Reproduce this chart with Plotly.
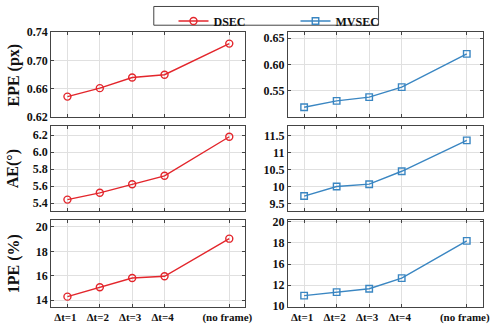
import plotly.graph_objects as go
from plotly.subplots import make_subplots

categories = ["Δt=1", "Δt=2", "Δt=3", "Δt=4", "(no frame)"]
x_pos = [1, 2, 3, 4, 6]

dsec_epe = [0.649, 0.661, 0.676, 0.680, 0.724]
mvsec_epe = [0.519, 0.531, 0.538, 0.557, 0.620]
dsec_ae = [5.44, 5.52, 5.62, 5.72, 6.18]
mvsec_ae = [9.72, 10.0, 10.07, 10.45, 11.36]
dsec_1pe = [14.28, 15.05, 15.81, 15.95, 19.04]
mvsec_1pe = [11.0, 11.34, 11.66, 12.66, 16.2]

y_titles = ["EPE (px)", "AE(°)", "1PE (%)"]

# tick definitions (values, labels) as in the reference
ticks = {
    (1, 1): ([0.62, 0.66, 0.70, 0.74], ["0.62", "0.66", "0.70", "0.74"], [0.6195, 0.7405]),
    (1, 2): ([0.55, 0.60, 0.65], ["0.55", "0.60", "0.65"], [0.4996, 0.6615]),
    (2, 1): ([5.4, 5.6, 5.8, 6.0, 6.2], ["5.4", "5.6", "5.8", "6.0", "6.2"], [5.31, 6.305]),
    (2, 2): ([9.5, 10, 10.5, 11, 11.5], ["9.5", "10", "10.5", "11", "11.5"], [9.29, 11.78]),
    (3, 1): ([14, 16, 18, 20], ["14", "16", "18", "20"], [13.45, 20.55]),
    (3, 2): ([10, 12, 14, 16, 18], ["10", "12", "16", "18", "20"], [9.95, 18.15]),
}

RED = "#e3262c"
BLUE = "#3a86c2"
FONT = "Liberation Serif, Times New Roman, serif"

fig = make_subplots(rows=3, cols=2)

series = [
    (1, 1, dsec_epe), (1, 2, mvsec_epe),
    (2, 1, dsec_ae), (2, 2, mvsec_ae),
    (3, 1, dsec_1pe), (3, 2, mvsec_1pe),
]
for r, c, vals in series:
    is_d = c == 1
    fig.add_trace(
        go.Scatter(
            x=x_pos, y=vals, mode="lines+markers",
            name="DSEC" if is_d else "MVSEC",
            showlegend=(r == 1),
            line=dict(color=RED if is_d else BLUE, width=1.4),
            marker=dict(
                symbol="circle-open" if is_d else "square-open",
                size=7 if is_d else 6.5,
                color=RED if is_d else BLUE,
                line=dict(width=1.4),
            ),
        ),
        row=r, col=c,
    )

W, H = 493, 332
xdom = {1: [52 / W, 249 / W], 2: [292 / W, 490 / W]}
ydom = {1: [1 - 116 / H, 1 - 27 / H], 2: [1 - 213 / H, 1 - 125 / H], 3: [1 - 313 / H, 1 - 223 / H]}

for r in range(1, 4):
    for c in range(1, 3):
        tv, tt, rng = ticks[(r, c)]
        fig.update_xaxes(
            domain=xdom[c], range=[0.5, 6.5], tickvals=x_pos, ticktext=categories,
            showticklabels=(r == 3), ticks="inside", ticklen=3, tickcolor="#444",
            mirror="allticks", showline=True, linecolor="#444", linewidth=1,
            showgrid=True, gridcolor="#e0e0e0", gridwidth=1, zeroline=False,
            tickfont=dict(family=FONT, size=11, color="#111", weight="bold"),
            ticklabelshift=-2,
            row=r, col=c,
        )
        fig.update_yaxes(
            domain=ydom[r], range=rng, tickvals=tv, ticktext=tt,
            ticks="inside", ticklen=3, tickcolor="#444",
            mirror="allticks", showline=True, linecolor="#444", linewidth=1,
            showgrid=True, gridcolor="#e0e0e0", gridwidth=1, zeroline=False,
            tickfont=dict(family=FONT, size=12, color="#111", weight="bold"),
            row=r, col=c,
        )

for r, t in enumerate(y_titles, start=1):
    d = ydom[r]
    fig.add_annotation(
        text=t, xref="paper", yref="paper", x=14 / W, y=(d[0] + d[1]) / 2,
        xanchor="center", yanchor="middle", textangle=-90, showarrow=False,
        font=dict(family=FONT, size=16, color="#111", weight="bold"),
    )

# legend frame
fig.add_shape(type="rect", xref="paper", yref="paper",
              x0=156 / W, x1=384 / W, y0=1 - 20 / H, y1=1 - 0.5 / H,
              line=dict(color="#444", width=1), fillcolor="white", layer="below")

fig.update_layout(
    width=W, height=H,
    margin=dict(l=0, r=0, t=0, b=0),
    paper_bgcolor="white", plot_bgcolor="white",
    showlegend=True,
    legend=dict(
        orientation="h", x=176 / W, xanchor="left", y=1 - 0.5 / H, yanchor="top",
        bgcolor="rgba(0,0,0,0)", borderwidth=0,
        entrywidth=77, entrywidthmode="pixels",
        font=dict(family=FONT, size=12, color="#111", weight="bold"),
    ),
)

fig.write_html(
    "out.html",
    config={"displayModeBar": False},
    post_script="document.body.style.margin='0';document.body.style.overflow='hidden';",
)
